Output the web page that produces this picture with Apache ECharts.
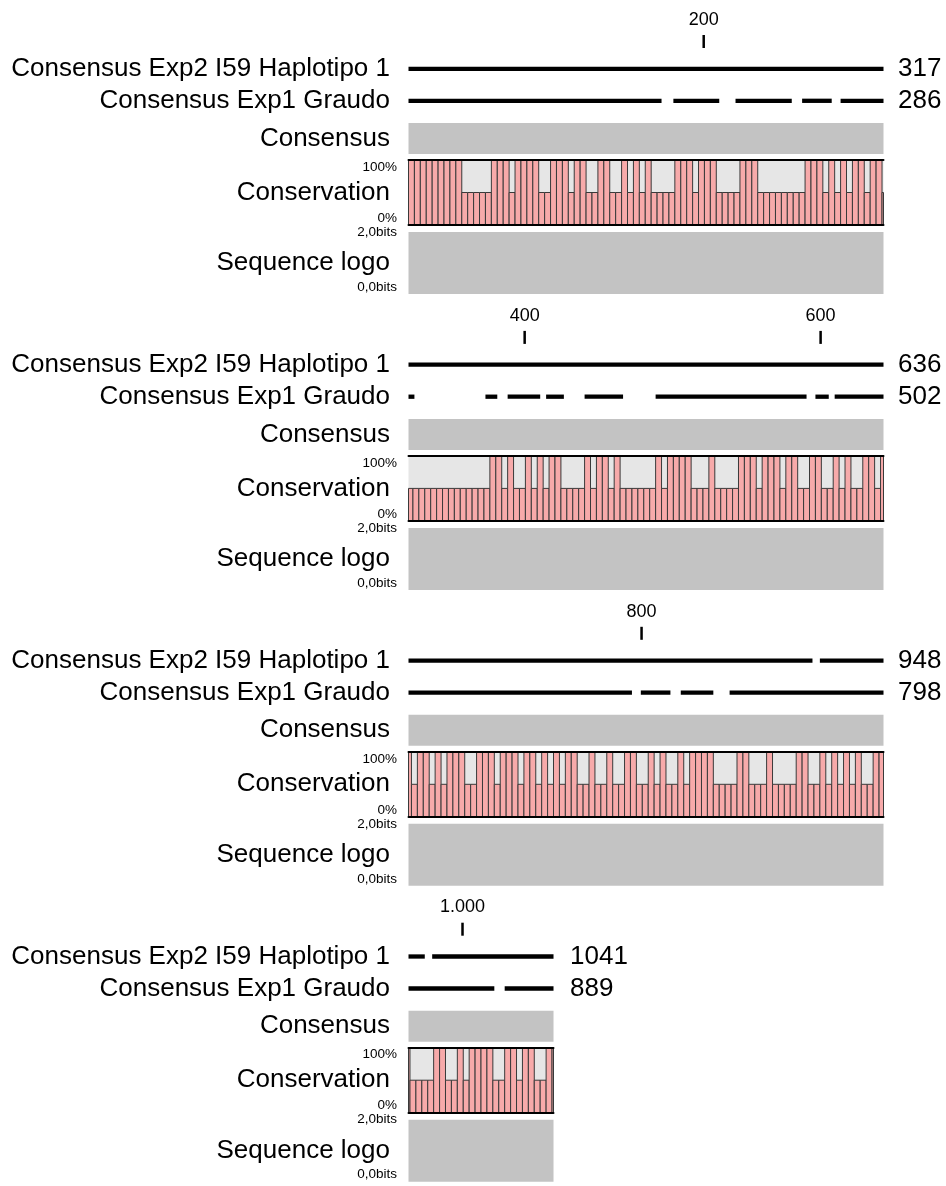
<!DOCTYPE html>
<html><head><meta charset="utf-8">
<script src="https://cdn.jsdelivr.net/npm/echarts@6/dist/echarts.min.js"></script>
<style>html,body{margin:0;padding:0;background:#fff}#c{width:946px;height:1186px}</style>
</head><body><div id="c"></div>
<script>
// ---------------- data ----------------
const rulerTicks = [200, 400, 600, 800, 1000];
const rulerLabels = ['200', '400', '600', '800', '1.000'];
const sequenceNames = ['Consensus Exp2 I59 Haplotipo 1', 'Consensus Exp1 Graudo'];
const rowStarts = [1, 322, 643, 964];
const rowEnds = [321, 642, 963, 1061];
const haplotipoEnds = ['317', '636', '948', '1041'];
const graudoEnds = ['286', '502', '798', '889'];
// aligned stretches (alignment positions, inclusive)
const haplotipoSegments = [[1, 915], [921, 974], [980, 1061]];
const graudoSegments = [[1, 171], [180, 210], [222, 259], [267, 286], [293, 325], [374, 381], [389, 410], [415, 426], [441, 466], [489, 590], [597, 605], [610, 793], [800, 819], [827, 848], [860, 1021], [1029, 1061]];
// conservation (%) per window of 4 alignment columns
const binSize = 4;
const conservationRow1 = [100,100,100,100,100,100,100,100,100,50, 50,50,50,50,100,100,100,50,100,100, 100,100,50,50,100,100,100,50,100,100, 50,50,100,100,50,50,100,50,100,50, 100,50,50,50,50,100,100,100,50,100, 100,100,50,50,50,50,100,100,100,50, 50,50,50,50,50,50,50,100,100,100, 50,100,50,100,50,100,100,50,100,100];
const conservationRow2 = [50,50,50,50,50,50,50,50,50,50, 50,50,50,50,100,100,50,100,50,50, 100,50,100,50,100,100,50,50,50,50, 100,50,100,100,50,100,50,50,50,50, 50,50,100,50,100,100,100,100,50,50, 50,100,50,50,50,50,100,100,100,50, 100,100,100,50,100,100,50,50,100,100, 50,50,100,50,100,50,50,100,100,50];
const conservationRow3 = [100,50,100,100,50,100,50,100,100,100, 50,50,100,100,100,50,100,100,100,50, 100,100,50,100,50,100,50,100,100,50, 50,100,50,50,100,50,50,100,100,50, 50,100,50,100,50,50,100,50,100,100, 100,100,50,50,50,50,100,100,50,50, 50,100,50,50,50,50,100,100,50,50, 100,50,100,50,100,50,100,50,50,100];
const conservationRow4 = [100,50,50,50,50,100,100,50,50,100, 50,100,100,100,100,50,50,100,100,50, 100,100,50,50,100,100];

// ---------------- layout / style ----------------
const FONT = "'Liberation Sans', Arial, Helvetica, sans-serif";
const LEFT = 408.5;
const PX_PER_POS = 475 / 321;
const SPACING = 295.9;
const conservation = [].concat(conservationRow1, conservationRow2, conservationRow3, conservationRow4);

const grid = [], xAxis = [], yAxis = [], series = [];
const hidden = { show: false };

function clip(segs, s, e, cat) {
  const out = [];
  segs.forEach(([a, b]) => {
    const x0 = Math.max(a - 1, s - 1), x1 = Math.min(b, e);
    if (x1 > x0) out.push([x0, x1, cat]);
  });
  return out;
}
function mkGrid(top, w, height, extra) {
  return Object.assign({ left: LEFT, top: top, width: w, height: height, outerBoundsMode: 'none', containLabel: false }, extra || {});
}

for (let r = 0; r < 4; r++) {
  const bt = r * SPACING;
  const s = rowStarts[r], e = rowEnds[r];
  const w = (e - s + 1) * PX_PER_POS;
  const xmin = s - 1, xmax = e;

  // ---- upper grid: ruler + sequences ----
  let gi = grid.length;
  grid.push(mkGrid(20.8 + bt, w, 96));
  let xi = xAxis.length;
  xAxis.push({ gridIndex: gi, type: 'value', min: xmin, max: xmax, show: false });
  let yi = yAxis.length;
  yAxis.push({ gridIndex: gi, type: 'category', inverse: true, position: 'left', data: [''].concat(sequenceNames),
    axisLine: hidden, axisTick: hidden,
    axisLabel: { fontSize: 26, color: '#000', margin: 18.5, interval: 0, fontFamily: FONT } });
  yAxis.push({ gridIndex: gi, type: 'category', inverse: true, position: 'right', data: ['', haplotipoEnds[r], graudoEnds[r]],
    axisLine: hidden, axisTick: hidden,
    axisLabel: { fontSize: 26, color: '#000', margin: r === 3 ? 16.5 : 14.5, interval: 0, fontFamily: FONT } });

  const ticks = [];
  rulerTicks.forEach((t, i) => { if (t >= s && t <= e) ticks.push([t, i]); });
  series.push({
    type: 'custom', xAxisIndex: xi, yAxisIndex: yi, data: ticks, silent: true,
    renderItem: (params, api) => {
      const p = api.coord([api.value(0) - 0.5, 0]);
      return { type: 'group', children: [
        { type: 'line', shape: { x1: p[0], y1: p[1] - 1.8, x2: p[0], y2: p[1] + 11.2 }, style: { stroke: '#000', lineWidth: 2.5 } },
        { type: 'text', x: p[0], y: p[1] - 17, style: { text: rulerLabels[api.value(1)], fontSize: 18, fontFamily: FONT, fill: '#000', align: 'center', verticalAlign: 'middle' } }
      ] };
    }
  });
  const segData = clip(haplotipoSegments, s, e, 1).concat(clip(graudoSegments, s, e, 2));
  series.push({
    type: 'custom', xAxisIndex: xi, yAxisIndex: yi, data: segData, silent: true,
    renderItem: (params, api) => {
      const p0 = api.coord([api.value(0), api.value(2)]);
      const p1 = api.coord([api.value(1), api.value(2)]);
      return { type: 'rect', shape: { x: p0[0], y: p0[1] - 2.15, width: p1[0] - p0[0], height: 4.3 }, style: { fill: '#000' } };
    }
  });

  // ---- consensus grid ----
  gi = grid.length;
  grid.push(mkGrid(123 + bt, w, 31, { show: true, backgroundColor: '#c3c3c3', borderWidth: 0 }));
  xAxis.push({ gridIndex: gi, type: 'value', min: xmin, max: xmax, show: false });
  yAxis.push({ gridIndex: gi, type: 'category', position: 'left', data: ['Consensus'], axisLine: hidden, axisTick: hidden,
    axisLabel: { fontSize: 26, color: '#000', margin: 18.5, fontFamily: FONT } });

  // ---- conservation grid ----
  gi = grid.length;
  grid.push(mkGrid(160 + bt, w, 65, { show: true, backgroundColor: '#e6e6e6', borderWidth: 0 }));
  xi = xAxis.length;
  const frame = { show: true, lineStyle: { color: '#000', width: 2 } };
  xAxis.push({ gridIndex: gi, type: 'value', min: xmin, max: xmax, position: 'bottom', z: 10,
    axisLine: frame, axisTick: hidden, axisLabel: hidden, splitLine: hidden });
  xAxis.push({ gridIndex: gi, type: 'value', min: xmin, max: xmax, position: 'top', z: 10,
    axisLine: frame, axisTick: hidden, axisLabel: hidden, splitLine: hidden });
  yi = yAxis.length;
  yAxis.push({ gridIndex: gi, type: 'value', position: 'left', min: 0, max: 100, interval: 100,
    axisLine: hidden, axisTick: hidden, splitLine: hidden,
    axisLabel: { fontSize: 13.5, color: '#000', margin: 11.5, fontFamily: FONT, formatter: v => v + '%',
      verticalAlignMaxLabel: 'top', verticalAlignMinLabel: 'bottom' } });
  yAxis.push({ gridIndex: gi, type: 'category', position: 'left', data: ['Conservation'], axisLine: hidden, axisTick: hidden,
    axisLabel: { fontSize: 26, color: '#000', margin: 18.5, fontFamily: FONT } });

  const bars = [];
  conservation.forEach((v, j) => {
    const x0 = Math.max(j * binSize, xmin), x1 = Math.min(j * binSize + binSize, xmax);
    if (x1 > x0) bars.push([x0, x1, v]);
  });
  series.push({
    type: 'custom', xAxisIndex: xi, yAxisIndex: yi, data: bars, silent: true,
    renderItem: (params, api) => {
      const p0 = api.coord([api.value(0), api.value(2)]);
      const p1 = api.coord([api.value(1), 0]);
      return { type: 'rect', shape: { x: p0[0], y: p0[1], width: p1[0] - p0[0], height: p1[1] - p0[1] },
        style: { fill: '#f7aaaa', stroke: '#3a3a3a', lineWidth: 1 } };
    }
  });

  // ---- sequence logo grid ----
  gi = grid.length;
  grid.push(mkGrid(232 + bt, w, 62, { show: true, backgroundColor: '#c3c3c3', borderWidth: 0 }));
  xAxis.push({ gridIndex: gi, type: 'value', min: xmin, max: xmax, show: false });
  yAxis.push({ gridIndex: gi, type: 'value', position: 'left', min: 0, max: 2, interval: 2,
    axisLine: hidden, axisTick: hidden, splitLine: hidden,
    axisLabel: { fontSize: 13.5, color: '#000', margin: 11.5, fontFamily: FONT,
      formatter: v => v.toFixed(1).replace('.', ',') + 'bits', verticalAlignMinLabel: 'bottom' } });
  yAxis.push({ gridIndex: gi, type: 'category', position: 'left', data: ['Sequence logo'], axisLine: hidden, axisTick: hidden,
    axisLabel: { fontSize: 26, color: '#000', margin: 18.5, fontFamily: FONT } });
}

const chart = echarts.init(document.getElementById('c'));
chart.setOption({
  animation: false,
  backgroundColor: '#fff',
  textStyle: { fontFamily: FONT },
  grid, xAxis, yAxis, series
});
</script>
</body></html>
